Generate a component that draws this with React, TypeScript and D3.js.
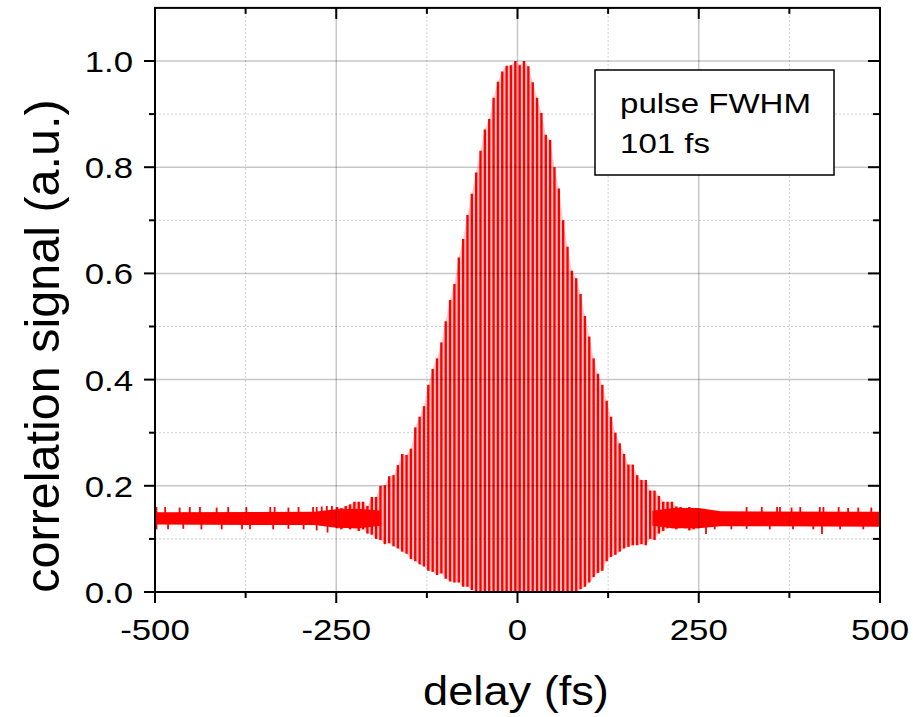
import React from "react";
import * as d3 from "d3";

// ---------- data ----------
const fringeDelay: number[] = [
  -249, -243, -237, -231, -225, -219, -213, -207, -201, -195, -189, -183, -177, -171,
  -165, -159, -153, -147, -141, -135, -129, -123, -117, -111, -105, -99, -93, -87,
  -81, -75, -69, -63, -57, -51, -45, -39, -33, -27, -21, -15, -9, -3,
  3, 9, 15, 21, 27, 33, 39, 45, 51, 57, 63, 69, 75, 81,
  87, 93, 99, 105, 111, 117, 123, 129, 135, 141, 147, 153, 159, 165,
  171, 177, 183, 189, 195, 201, 207, 213, 219, 225, 231, 237, 243, 249,
];
const fringeHigh: number[] = [
  0.160, 0.158, 0.162, 0.165, 0.170, 0.170, 0.170, 0.162, 0.179, 0.179, 0.200, 0.201, 0.218, 0.220,
  0.239, 0.260, 0.258, 0.270, 0.310, 0.330, 0.350, 0.390, 0.420, 0.440, 0.470, 0.510, 0.550, 0.580,
  0.630, 0.665, 0.710, 0.750, 0.790, 0.831, 0.871, 0.891, 0.931, 0.961, 0.980, 0.991, 0.992, 1.000,
  0.992, 1.000, 0.990, 0.960, 0.931, 0.902, 0.861, 0.851, 0.800, 0.760, 0.700, 0.650, 0.605, 0.591,
  0.561, 0.520, 0.481, 0.440, 0.411, 0.390, 0.360, 0.330, 0.300, 0.280, 0.260, 0.240, 0.240, 0.220,
  0.211, 0.211, 0.191, 0.191, 0.181, 0.170, 0.170, 0.170, 0.161, 0.160, 0.158, 0.160, 0.156, 0.158,
];
const fringeLow: number[] = [
  0.120, 0.118, 0.122, 0.118, 0.120, 0.115, 0.118, 0.110, 0.108, 0.100, 0.098, 0.090, 0.092, 0.086,
  0.082, 0.076, 0.072, 0.062, 0.058, 0.052, 0.048, 0.040, 0.038, 0.032, 0.035, 0.025, 0.020, 0.018,
  0.018, 0.010, 0.010, 0.004, 0.0, 0.0, 0.0, 0.0, 0.0, 0.0, 0.0, 0.0, 0.0, 0.0,
  0.0, 0.0, 0.0, 0.0, 0.0, 0.0, 0.0, 0.0, 0.0, 0.0, 0.0, 0.0, 0.0, 0.0,
  0.005, 0.010, 0.018, 0.028, 0.036, 0.040, 0.058, 0.066, 0.070, 0.076, 0.082, 0.085, 0.088, 0.088,
  0.090, 0.088, 0.100, 0.098, 0.110, 0.115, 0.120, 0.120, 0.118, 0.122, 0.120, 0.116, 0.118, 0.120,
];

// background noise band (outside the pulse)
const bandLeftDelay: number[] = [-500, -280, -250, -220, -188];
const bandLeftHigh: number[] = [0.150, 0.151, 0.156, 0.157, 0.153];
const bandLeftLow: number[] = [0.127, 0.126, 0.121, 0.120, 0.125];
const bandRightDelay: number[] = [186, 215, 250, 280, 500];
const bandRightHigh: number[] = [0.153, 0.158, 0.158, 0.152, 0.151];
const bandRightLow: number[] = [0.125, 0.120, 0.120, 0.124, 0.123];

// noise spikes
const spikeUpDelay: number[] = [
  -498, -486, -466, -452, -438, -415, -399, -374, -341, -335, -316, -302, -282, -277, -270, -263, -256,
  316, 337, 358, 362, 378, 390, 417, 422, 443, 456, 470, 488,
];
const spikeUpValue: number[] = [
  0.160, 0.160, 0.159, 0.160, 0.160, 0.159, 0.160, 0.160, 0.160, 0.160, 0.159, 0.160, 0.160, 0.160, 0.161, 0.162, 0.162,
  0.160, 0.160, 0.160, 0.160, 0.159, 0.160, 0.160, 0.160, 0.160, 0.158, 0.159, 0.159,
];
const spikeDownDelay: number[] = [
  -498, -482, -461, -436, -408, -380, -369, -337, -316, -295, -277, -262,
  260, 272, 295, 316, 348, 380, 408, 420, 445, 477,
];
const spikeDownValue: number[] = [
  0.118, 0.118, 0.119, 0.118, 0.118, 0.118, 0.118, 0.118, 0.119, 0.118, 0.116, 0.112,
  0.109, 0.118, 0.118, 0.119, 0.118, 0.118, 0.118, 0.109, 0.118, 0.118,
];

const xMajorTicks: number[] = [-500, -250, 0, 250, 500];
const xMinorTicks: number[] = [-375, -125, 125, 375];
const yMajorTicks: number[] = [0.0, 0.2, 0.4, 0.6, 0.8, 1.0];
const yMinorTicks: number[] = [0.1, 0.3, 0.5, 0.7, 0.9];

const legendLines: string[] = ["pulse FWHM", "101 fs"];

// ---------- layout ----------
const W = 913;
const H = 717;
const L = 155;
const R = 880;
const T = 7.9;
const B = 592;

const FONT = "'Liberation Sans', Arial, Helvetica, sans-serif";

export default function App() {
  const x = d3.scaleLinear().domain([-500, 500]).range([L, R]);
  const y = d3.scaleLinear().domain([0, 1.1]).range([B, T]);
  const fmt = d3.format(".1f");
  const RED = "#ff0000";

  const makeBand = (ds: number[], hi: number[], lo: number[]) =>
    d3
      .area<number>()
      .x((d) => x(d))
      .y0((_, i) => y(lo[i]))
      .y1((_, i) => y(hi[i]))(ds) || "";

  const gridMajor = "rgba(0,0,0,0.22)";
  const gridMinor = "rgba(0,0,0,0.2)";

  return (
    <svg
      width={W}
      height={H}
      style={{ position: "absolute", left: 0, top: 0, background: "#fff" }}
      fontFamily={FONT}
    >
      <defs>
        <clipPath id="plotClip">
          <rect x={L} y={T} width={R - L} height={B - T} />
        </clipPath>
      </defs>

      {/* data */}
      <g clipPath="url(#plotClip)">
        {/* faint fill between fringe minima and maxima (antialiased fringes) */}
        <path d={makeBand(fringeDelay, fringeHigh, fringeLow)} fill={RED} fillOpacity={0.22} />
        <path d={makeBand(bandLeftDelay, bandLeftHigh, bandLeftLow)} fill={RED} />
        <path d={makeBand(bandRightDelay, bandRightHigh, bandRightLow)} fill={RED} />
        {spikeUpDelay.map((d, i) => (
          <line key={"su" + i} x1={x(d)} x2={x(d)} y1={y(0.14)} y2={y(spikeUpValue[i])} stroke={RED} strokeWidth={1.8} />
        ))}
        {spikeDownDelay.map((d, i) => (
          <line key={"sd" + i} x1={x(d)} x2={x(d)} y1={y(0.14)} y2={y(spikeDownValue[i])} stroke={RED} strokeWidth={1.8} />
        ))}
        {fringeDelay.map((d, i) => (
          <line
            key={"f" + i}
            x1={x(d)}
            x2={x(d)}
            y1={y(fringeLow[i])}
            y2={y(fringeHigh[i])}
            stroke={RED}
            strokeWidth={2.4}
          />
        ))}
      </g>

      {/* grid (drawn over the data, translucent) */}
      <g>
        {xMajorTicks.filter((t) => t > -500 && t < 500).map((t) => (
          <line key={"gx" + t} x1={x(t)} x2={x(t)} y1={T} y2={B} stroke={gridMajor} strokeWidth={1.5} />
        ))}
        {xMinorTicks.map((t) => (
          <line key={"gxm" + t} x1={x(t)} x2={x(t)} y1={T} y2={B} stroke={gridMinor} strokeWidth={1} strokeDasharray="2,2" />
        ))}
        {yMajorTicks.filter((t) => t > 0).map((t) => (
          <line key={"gy" + t} x1={L} x2={R} y1={y(t)} y2={y(t)} stroke={gridMajor} strokeWidth={1.5} />
        ))}
        {yMinorTicks.map((t) => (
          <line key={"gym" + t} x1={L} x2={R} y1={y(t)} y2={y(t)} stroke={gridMinor} strokeWidth={1} strokeDasharray="2,2" />
        ))}
      </g>

      {/* frame */}
      <rect x={L} y={T} width={R - L} height={B - T} fill="none" stroke="#000" strokeWidth={2} />

      {/* ticks */}
      <g stroke="#000" strokeWidth={2}>
        {xMajorTicks.map((t) => (
          <React.Fragment key={"tx" + t}>
            <line x1={x(t)} x2={x(t)} y1={B} y2={B + 11} />
            <line x1={x(t)} x2={x(t)} y1={T} y2={T + 11} />
          </React.Fragment>
        ))}
        {xMinorTicks.map((t) => (
          <React.Fragment key={"txm" + t}>
            <line x1={x(t)} x2={x(t)} y1={B} y2={B + 6} />
            <line x1={x(t)} x2={x(t)} y1={T} y2={T + 6} />
          </React.Fragment>
        ))}
        {yMajorTicks.map((t) => (
          <React.Fragment key={"ty" + t}>
            <line x1={L - 11} x2={L} y1={y(t)} y2={y(t)} />
            <line x1={R - 12} x2={R} y1={y(t)} y2={y(t)} />
          </React.Fragment>
        ))}
        {yMinorTicks.map((t) => (
          <React.Fragment key={"tym" + t}>
            <line x1={L - 6} x2={L} y1={y(t)} y2={y(t)} />
            <line x1={R - 7} x2={R} y1={y(t)} y2={y(t)} />
          </React.Fragment>
        ))}
      </g>

      {/* tick labels */}
      <g fontSize={30} fill="#000">
        {xMajorTicks.map((t) => (
          <g key={"lx" + t} transform={`translate(${x(t)},640) scale(1.16,1)`}>
            <text textAnchor="middle">{String(t)}</text>
          </g>
        ))}
        {yMajorTicks.map((t) => (
          <g key={"ly" + t} transform={`translate(133,${y(t) + 11}) scale(1.16,1)`}>
            <text textAnchor="end">{fmt(t)}</text>
          </g>
        ))}
      </g>

      {/* axis titles */}
      <g transform={`translate(516,705) scale(1.13,1)`}>
        <text textAnchor="middle" fontSize={40}>delay (fs)</text>
      </g>
      <g transform={`translate(59,346) rotate(-90)`}>
        <text textAnchor="middle" fontSize={48.5}>correlation signal (a.u.)</text>
      </g>

      {/* legend box */}
      <rect x={595} y={70} width={239} height={105} fill="#fff" stroke="#000" strokeWidth={1.5} />
      {legendLines.map((s, i) => (
        <g key={"lg" + i} transform={`translate(620,${113 + i * 40}) scale(1.16,1)`}>
          <text fontSize={28.5}>{s}</text>
        </g>
      ))}
    </svg>
  );
}
